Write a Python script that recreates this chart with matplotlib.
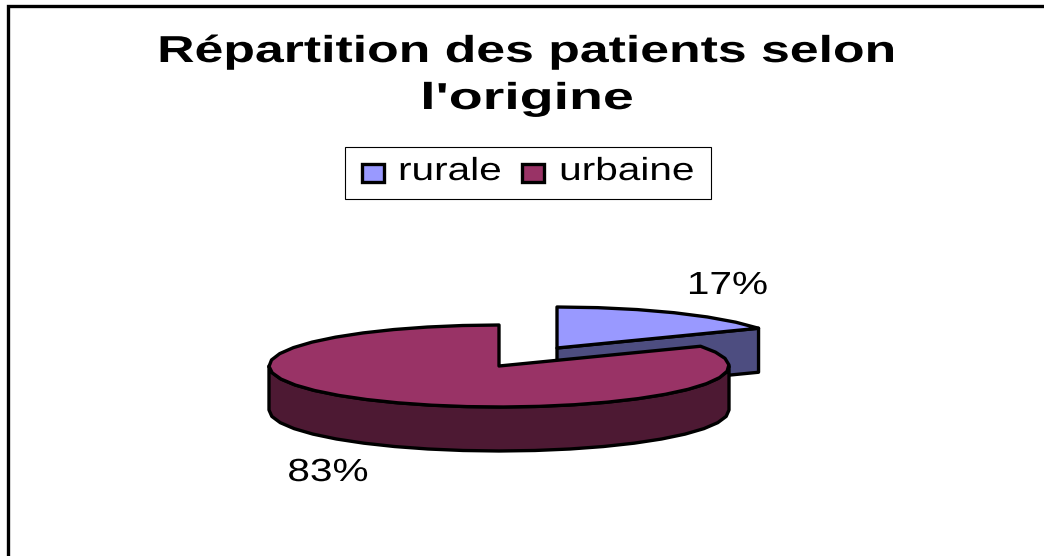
import numpy as np
import matplotlib
matplotlib.use("Agg")
import matplotlib.pyplot as plt
from matplotlib.patches import Polygon, Rectangle
from matplotlib.patheffects import AbstractPathEffect
from matplotlib.transforms import Affine2D

# data
categories = ["rurale", "urbaine"]
values = [17, 83]
colors = ["#9999FF", "#993366"]
side_colors = ["#4D4D80", "#4D1933"]
title = "Répartition des patients selon\nl'origine"

plt.rcParams["font.family"] = ["Liberation Sans", "DejaVu Sans"]


class StretchX(AbstractPathEffect):
    """The reference text is wider than the font, so scale it around cx."""

    def __init__(self, cx, sx):
        super().__init__()
        self.cx = cx
        self.sx = sx

    def draw_path(self, renderer, gc, tpath, affine, rgbFace=None):
        stretch = Affine2D().translate(-self.cx, 0).scale(self.sx, 1).translate(self.cx, 0)
        renderer.draw_path(gc, tpath, affine + stretch, rgbFace)


def stretched_text(ax, x, y, s, size, sx, **kwargs):
    ax.text(x, y, s, fontsize=size, ha="center", va="baseline",
            path_effects=[StretchX(x, sx)], **kwargs)


def rim(cx, cy, rx, ry, t1, t2):
    # coarse steps, the reference outline is visibly polygonal
    n = max(2, int(abs(t2 - t1) / 9) + 1)
    t = np.radians(np.linspace(t1, t2, n))
    return np.column_stack([cx + rx * np.cos(t), cy - ry * np.sin(t)])


fig = plt.figure(figsize=(10.44, 5.56), dpi=100)
ax = fig.add_axes([0, 0, 1, 1])
ax.set_xlim(0, 1044)
ax.set_ylim(556, 0)
ax.axis("off")

# chart frame, only top and left are inside the crop
ax.plot([1044, 8, 8], [5.5, 5.5, 556], color="black", lw=2.4, solid_joinstyle="miter")

# title
title_lines = title.split("\n")
stretched_text(ax, 526.5, 62, title_lines[0], 27, 1.38, fontweight="bold")
stretched_text(ax, 527, 109, title_lines[1], 27, 1.48, fontweight="bold")

# legend
ax.add_patch(Rectangle((345, 146.5), 366, 52, fc="white", ec="black", lw=0.8))
for name, col, sx0, tx in zip(categories, colors, [362, 522], [450, 627]):
    ax.add_patch(Rectangle((sx0, 164), 22, 18, fc=col, ec="black", lw=2.4))
    stretched_text(ax, tx, 180, name, 23, 1.27)

# pie geometry
rx, ry, depth = 230, 41, 44
centers = [(557, 348), (499, 366)]
start = 90
angles = []
for v in values:
    angles.append((start - 360 * v / sum(values), start))
    start -= 360 * v / sum(values)
edge = dict(ec="black", lw=2.4, joinstyle="round")

# rural slice, pulled out to the upper right
(cx, cy) = centers[0]
t1, t2 = angles[0]
end = rim(cx, cy, rx, ry, t1, t1)[0]
face = [(cx, cy), tuple(end), (end[0], end[1] + depth), (cx, cy + depth)]
ax.add_patch(Polygon(face, fc=side_colors[0], **edge))
ax.add_patch(Polygon(np.vstack([[cx, cy], rim(cx, cy, rx, ry, t1, t2)]), fc=colors[0], **edge))

# urban slice
(cx, cy) = centers[1]
t1, t2 = angles[1]
lower = rim(cx, cy, rx, ry, 180, 360)
wall = np.vstack([lower, (lower + [0, depth])[::-1]])
ax.add_patch(Polygon(wall, fc=side_colors[1], **edge))
ax.add_patch(Polygon(np.vstack([[cx, cy], rim(cx, cy, rx, ry, t1, t2)]), fc=colors[1], **edge))

# percent labels
stretched_text(ax, 727.5, 294, f"{values[0]}%", 23, 1.27)
stretched_text(ax, 328, 481, f"{values[1]}%", 23, 1.27)

fig.savefig("out.png", dpi=100)
